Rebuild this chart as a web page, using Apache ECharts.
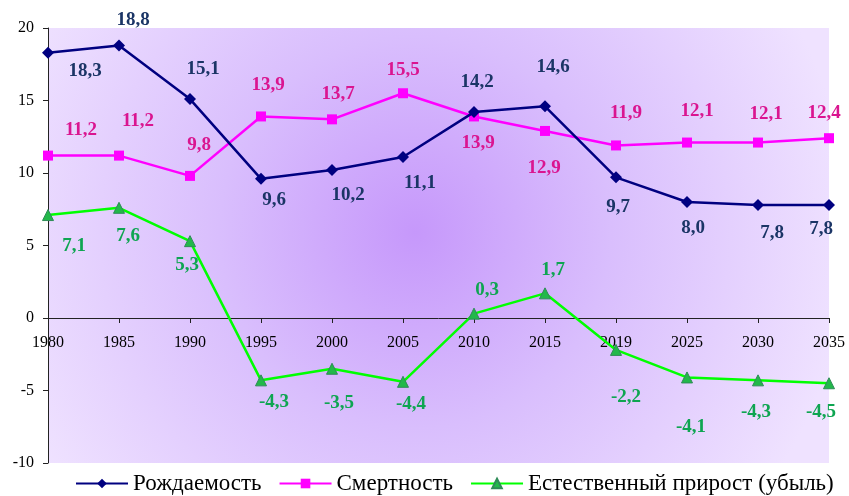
<!DOCTYPE html>
<html>
<head>
<meta charset="utf-8">
<script src="https://cdn.jsdelivr.net/npm/echarts@6/dist/echarts.min.js"></script>
<style>html,body{margin:0;padding:0;background:#fff}#c{width:849px;height:496px}</style>
</head>
<body>
<div id="c"></div>
<script>
var years = ['1980','1985','1990','1995','2000','2005','2010','2015','2019','2025','2030','2035'];
var birthRate = [18.3, 18.8, 15.1, 9.6, 10.2, 11.1, 14.2, 14.6, 9.7, 8.0, 7.8, 7.8];
var deathRate = [11.2, 11.2, 9.8, 13.9, 13.7, 15.5, 13.9, 12.9, 11.9, 12.1, 12.1, 12.4];
var naturalGrowth = [7.1, 7.6, 5.3, -4.3, -3.5, -4.4, 0.3, 1.7, -2.2, -4.1, -4.3, -4.5];
var seriesNames = ['Рождаемость', 'Смертность', 'Естественный прирост (убыль)'];
var yTicks = {min: -10, max: 20, interval: 5};

// label placement offsets (px, relative to the point), styling only
var birthLabelOffsets = [[37,18],[14,-25],[13,-30],[13,21],[16,25],[17,26],[3,-30],[8,-39],[2,30],[6,26],[14,28],[-8,24]];
var deathLabelOffsets = [[33,-26],[19,-35],[9,-31],[7,-31],[6,-25],[0,-23],[4,27],[-1,37],[10,-32],[10,-31],[8,-28],[-5,-25]];
var growthLabelOffsets = [[26,31],[9,28],[-3,24],[13,22],[7,34],[8,22],[13,-24],[8,-23],[10,47],[4,50],[-2,32],[-8,29]];

var FONT = '"Liberation Serif","Times New Roman",serif';
var GRID = {left: 48, right: 20, top: 28, bottom: 33};
var GRID_H = 496 - GRID.top - GRID.bottom;

function fmt(v){ return v.toFixed(1).replace('.', ','); }

function buildData(values, offsets, color){
  return values.map(function(v, i){
    return {
      value: v,
      label: {
        show: true,
        position: 'inside',
        offset: offsets[i],
        formatter: fmt(v),
        color: color,
        fontFamily: FONT,
        fontWeight: 'bold',
        fontSize: 19,
        align: 'center',
        verticalAlign: 'middle'
      }
    };
  });
}

// shift x axis (line, ticks, labels) up to the value 0
var zeroShift = -GRID_H * (0 - yTicks.min) / (yTicks.max - yTicks.min);

var chart = echarts.init(document.getElementById('c'), null, {renderer: 'canvas'});
chart.setOption({
  animation: false,
  backgroundColor: '#ffffff',
  grid: {
    left: GRID.left, right: GRID.right, top: GRID.top, bottom: GRID.bottom,
    show: true,
    borderWidth: 0,
    backgroundColor: {
      type: 'radial', x: 0.47, y: 0.47, r: 1.0,
      colorStops: [
        {offset: 0, color: '#C698FB'},
        {offset: 0.45, color: '#D9BEFD'},
        {offset: 1, color: '#EFE2FF'}
      ]
    }
  },
  legend: {
    top: 472,
    left: 75,
    padding: 0,
    itemWidth: 52,
    itemHeight: 12,
    itemGap: 17,
    textStyle: {fontFamily: FONT, fontSize: 23, color: '#000'},
    data: seriesNames
  },
  xAxis: {
    type: 'category',
    data: years,
    boundaryGap: false,
    offset: zeroShift,
    axisLine: {onZero: false, lineStyle: {color: '#222', width: 1}},
    axisTick: {show: true, length: 5, alignWithLabel: true, lineStyle: {color: '#222'}},
    axisLabel: {interval: 0, margin: 17, fontFamily: FONT, fontSize: 16, color: '#000'},
    splitLine: {show: false}
  },
  yAxis: {
    type: 'value',
    min: yTicks.min, max: yTicks.max, interval: yTicks.interval,
    axisLine: {show: true, lineStyle: {color: '#222', width: 1}},
    axisTick: {show: true, length: 5, lineStyle: {color: '#222'}},
    axisLabel: {margin: 14, fontFamily: FONT, fontSize: 16, color: '#000'},
    splitLine: {show: false}
  },
  series: [
    {
      name: seriesNames[0], type: 'line',
      data: buildData(birthRate, birthLabelOffsets, '#1B3566'),
      symbol: 'diamond', symbolSize: 12,
      lineStyle: {color: '#000080', width: 2.5},
      itemStyle: {color: '#000080'},
      z: 3
    },
    {
      name: seriesNames[1], type: 'line',
      data: buildData(deathRate, deathLabelOffsets, '#DA1590'),
      symbol: 'rect', symbolSize: 10,
      lineStyle: {color: '#FF00FF', width: 2.5},
      itemStyle: {color: '#FF00FF'},
      z: 2
    },
    {
      name: seriesNames[2], type: 'line',
      data: buildData(naturalGrowth, growthLabelOffsets, '#0EA551'),
      symbol: 'triangle', symbolSize: 11,
      lineStyle: {color: '#00FF00', width: 2.5},
      itemStyle: {color: '#22B84A', borderColor: '#2E8B57', borderWidth: 1},
      z: 2
    }
  ]
});
</script>
</body>
</html>
